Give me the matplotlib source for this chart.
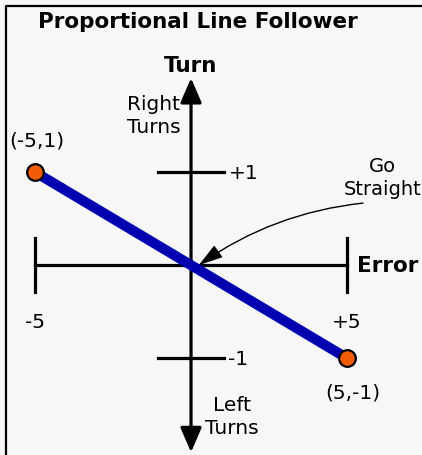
import matplotlib.pyplot as plt

# data of the diagram
err_pts = [-5, 5]            # error values of the two end points
turn_pts = [1, -1]           # turn values of the two end points
pt_labels = ['(-5,1)', '(5,-1)']
x_ticks = [-5, 5]
x_tick_labels = ['-5', '+5']
y_ticks = [1, -1]
y_tick_labels = ['+1', '-1']

bg = '#f7f7f7'
fig = plt.figure(figsize=(4.22, 4.56), dpi=100, facecolor=bg)
ax = fig.add_axes([0, 0, 1, 1])
ax.set_xlim(-6.12, 7.40)
ax.set_ylim(-2.04, 2.86)
ax.axis('off')

# frame (only left and top are visible)
ax.plot([0.0142, 0.0142, 1.02], [-0.02, 0.9846, 0.9846], transform=ax.transAxes,
        color='black', lw=1.6, solid_capstyle='butt')

# horizontal axis with end ticks
ax.plot([x_ticks[0], x_ticks[1]], [0, 0], color='black', lw=2.3)
for x in x_ticks:
    ax.plot([x, x], [-0.29, 0.29], color='black', lw=2.3)
for x, t in zip(x_ticks, x_tick_labels):
    ax.text(x, -0.61, t, ha='center', va='center', fontsize=14.5)

# vertical axis, arrows both ways
head = dict(arrowstyle='-|>,head_length=1.5,head_width=0.65', mutation_scale=10,
            lw=2.3, color='black', shrinkA=0, shrinkB=0)
ax.annotate('', xy=(0, 2.01), xytext=(0, 0), arrowprops=head)
ax.annotate('', xy=(0, -2.01), xytext=(0, 0), arrowprops=head)
for y, t in zip(y_ticks, y_tick_labels):
    ax.plot([-1.05, 1.05], [y, y], color='black', lw=2.3)
    ax.text(1.2, y, t, ha='left', va='center', fontsize=14.5)

# proportional line
ax.plot(err_pts, turn_pts, color='#0000b0', lw=7.3, solid_capstyle='butt', zorder=3)
ax.plot(err_pts, turn_pts, 'o', ms=12, mfc='#f25c05', mec='black', mew=1.6, zorder=4)
for x, y, t, off in zip(err_pts, turn_pts, pt_labels, [(1, 23), (4, -24)]):
    ax.annotate(t, (x, y), xytext=off, textcoords='offset points',
                ha='center', va='center', fontsize=14.5)

# labels
ax.text(0.21, 2.62, 'Proportional Line Follower', ha='center', va='center',
        fontsize=15.5, fontweight='bold')
ax.text(0, 2.15, 'Turn', ha='center', va='center', fontsize=15.5, fontweight='bold')
ax.text(5.32, 0, 'Error', ha='left', va='center', fontsize=15.5, fontweight='bold')
ax.text(-1.19, 1.61, 'Right\nTurns', ha='center', va='center', fontsize=14.5, linespacing=1.25)
ax.text(1.31, -1.62, 'Left\nTurns', ha='center', va='center', fontsize=14.5, linespacing=1.25)

ax.text(6.13, 0.946, 'Go\nStraight', ha='center', va='center', fontsize=14, linespacing=1.25)
ax.annotate('', xy=(0.25, 0.0), xytext=(5.51, 0.667),
            arrowprops=dict(arrowstyle='-|>,head_length=1.5,head_width=0.45',
                            mutation_scale=10, lw=1.0, color='black',
                            connectionstyle='arc3,rad=0.13', shrinkA=0, shrinkB=0))

fig.savefig('out.png', dpi=100, facecolor=bg)
